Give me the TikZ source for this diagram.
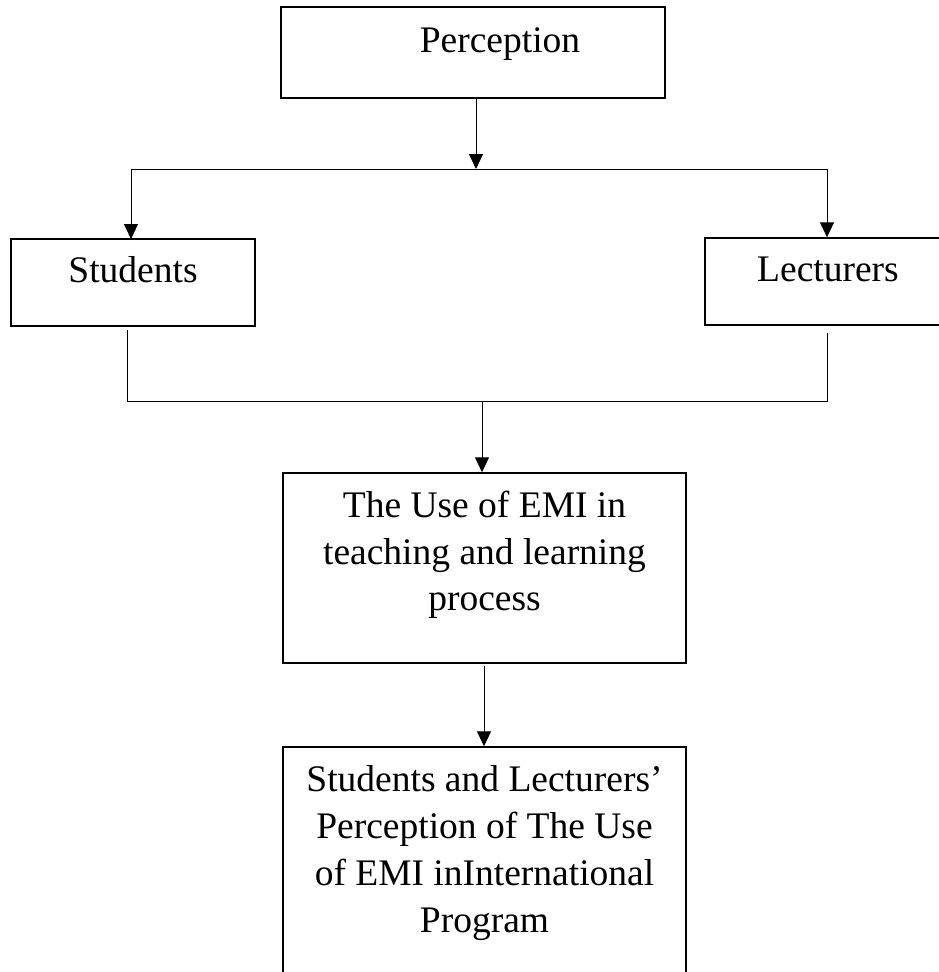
\documentclass[tikz,border=0pt]{standalone}
\usepackage{fontspec}
\setmainfont{Liberation Serif}
\usetikzlibrary{arrows.meta}
\begin{document}
\begin{tikzpicture}[x=1pt,y=-1pt,>={Triangle[length=15pt,width=14pt]},
	box/.style={draw,line width=1.5pt,inner sep=0pt},
	txt/.style={anchor=base,align=center,inner sep=0pt,font={\fontsize{37.5}{46.7}\selectfont}},
	link/.style={line width=1pt}]
	\useasboundingbox (0,0) rectangle (939,972);
	\clip (0,0) rectangle (939,972);
	% boxes
	\node[box,minimum width=384pt,minimum height=91pt] (perc) at (473,52.5) {};
	\node[box,minimum width=244pt,minimum height=87pt] (stud) at (133,282.5) {};
	\node[box,minimum width=246pt,minimum height=87pt] (lect) at (828,281.5) {};
	\node[box,minimum width=403pt,minimum height=190pt] (emi) at (484.5,568) {};
	\node[box,minimum width=403pt,minimum height=240pt] (out) at (484.5,867) {};
	% texts
	\node[txt] (percT) at ([xshift=27pt,yshift=-46pt]perc.north) {Perception};
	\node[txt] (studT) at ([yshift=-44pt]stud.north) {Students};
	\node[txt] (lectT) at ([yshift=-44pt]lect.north) {Lecturers};
	\node[txt,anchor=north] (emiT) at ([yshift=-18.5pt]emi.north) {The Use of EMI in\\teaching and learning\\process};
	\node[txt,anchor=north] (outT) at ([yshift=-19.5pt]out.north) {Students and Lecturers’\\Perception of The Use\\of EMI inInternational\\Program};
	% connectors
	\coordinate (split) at (476,169);
	\coordinate (join) at (482,401);
	\draw[link,->] (perc.south -| split) -- (split);
	\draw[link,->] (split -| 131,0) -- (131,169) -- (131,239);
	\draw[link] (131,169) -- (827,169);
	\draw[link,->] (827,169) -- (lect.north -| 827,0);
	\draw[link] (127,330) -- (127,401) -- (827,401) -- (827,333);
	\draw[link,->] (join) -- (emi.north -| join);
	\draw[link,->] (484,666) -- (out.north -| 484,0);
\end{tikzpicture}
\end{document}
